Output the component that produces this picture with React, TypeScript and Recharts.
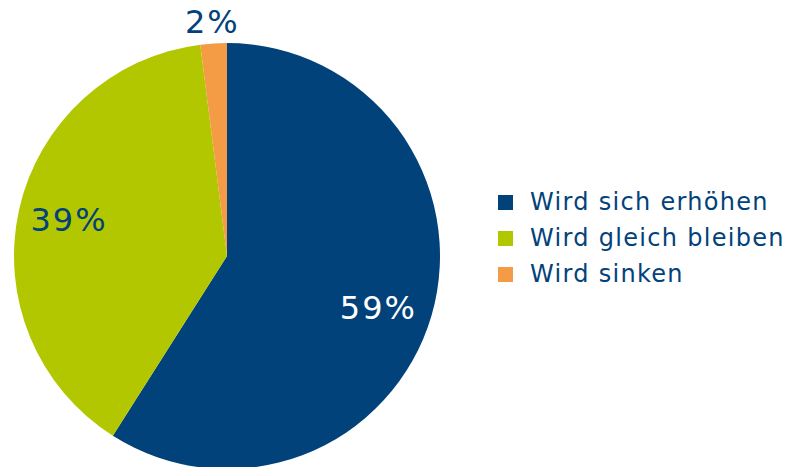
import React from 'react';
import { PieChart, Pie, Cell, Legend } from 'recharts';

const categories = ['Wird sich erhöhen', 'Wird gleich bleiben', 'Wird sinken'];
const shares = [59, 39, 2];
const colors = ['#02427A', '#B3C700', '#F39B45'];
const labelColors = ['#FFFFFF', '#02427A', '#02427A'];
const labelRadius = [0.74, 0.76, 1.1];
const labelShiftY = [8, -1, 0];

const data = categories.map((name, i) => ({ name, value: shares[i] }));

const RADIAN = Math.PI / 180;

function renderLabel(props: any) {
  const { cx, cy, midAngle, outerRadius, index, value } = props;
  const r = outerRadius * labelRadius[index];
  const x = cx + r * Math.cos(-midAngle * RADIAN);
  const y = cy + r * Math.sin(-midAngle * RADIAN) + labelShiftY[index];
  return (
    <text
      x={x}
      y={y}
      fill={labelColors[index]}
      textAnchor="middle"
      dominantBaseline="central"
      fontSize={32}
      letterSpacing={2}
      fontFamily="DejaVu Sans, Verdana, sans-serif"
    >
      {value}%
    </text>
  );
}

function LegendContent() {
  return (
    <div style={{ fontFamily: 'DejaVu Sans, Verdana, sans-serif', fontSize: 24, letterSpacing: 1.3, color: '#02427A' }}>
      {categories.map((c, i) => (
        <div key={c} style={{ display: 'flex', alignItems: 'center', height: 36 }}>
          <span style={{ width: 15, height: 15, background: colors[i], marginRight: 17, display: 'inline-block', flexShrink: 0 }} />
          <span style={{ whiteSpace: 'nowrap' }}>{c}</span>
        </div>
      ))}
    </div>
  );
}

export default function App() {
  return (
    <div style={{ position: 'absolute', left: 0, top: 0, width: 786, height: 467, background: '#fff' }}>
      <PieChart width={786} height={467} margin={{ top: 0, right: 0, bottom: 0, left: 0 }}>
        <Pie
          data={data}
          dataKey="value"
          nameKey="name"
          cx={227}
          cy={256}
          outerRadius={213}
          startAngle={90}
          endAngle={-270}
          stroke="none"
          labelLine={false}
          label={renderLabel}
          isAnimationActive={false}
        >
          {data.map((d, i) => (
            <Cell key={d.name} fill={colors[i]} />
          ))}
        </Pie>
        <Legend content={<LegendContent />} wrapperStyle={{ left: 498, top: 184, width: 290 }} />
      </PieChart>
    </div>
  );
}
